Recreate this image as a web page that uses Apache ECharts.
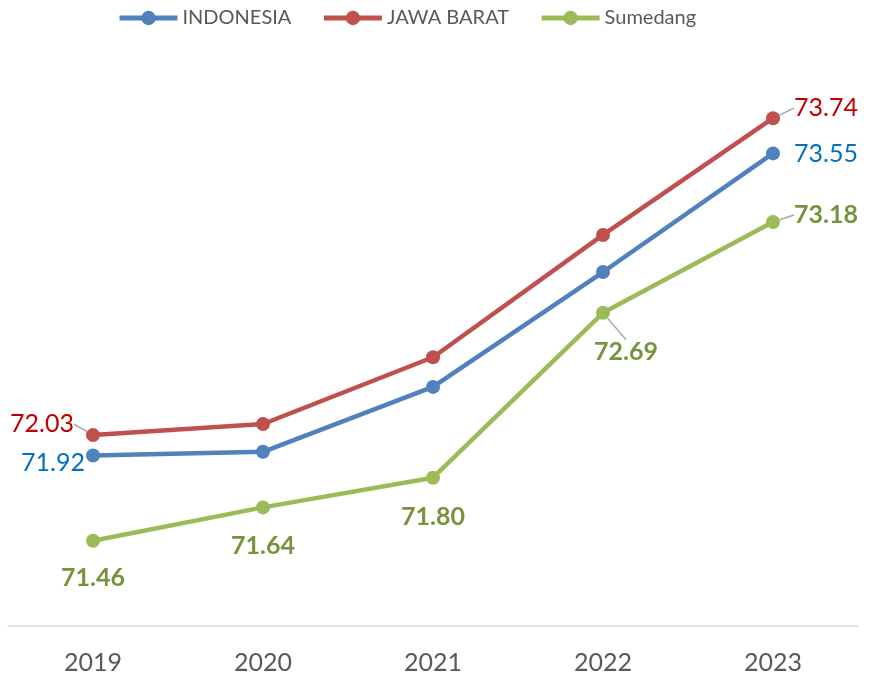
<!DOCTYPE html>
<html>
<head>
<meta charset="utf-8">
<script src="https://cdn.jsdelivr.net/npm/echarts@6/dist/echarts.min.js"></script>
<style>
  html, body { margin: 0; padding: 0; background: #fff; }
  #chart { width: 871px; height: 685px; }
</style>
</head>
<body>
<div id="chart"></div>
<script>
var years = ["2019", "2020", "2021", "2022", "2023"];
var indonesia = [71.92, 71.94, 72.29, 72.91, 73.55];
var jawaBarat = [72.03, 72.09, 72.45, 73.11, 73.74];
var sumedang = [71.46, 71.64, 71.80, 72.69, 73.18];

var fontFam = "Lato, 'Open Sans', sans-serif";

// label placement per point (null = no label)
function labelFor(pos, color, bold, offset) {
  return {
    show: true,
    position: pos,
    distance: 10,
    offset: offset || [0, 0],
    color: color,
    fontSize: 25,
    fontWeight: bold ? "bold" : "normal",
    fontFamily: fontFam,
    formatter: function (p) { return p.value.toFixed(2); }
  };
}

function buildData(values, labels, lines) {
  return values.map(function (v, i) {
    var item = { value: v };
    if (labels[i]) item.label = labels[i];
    else item.label = { show: false };
    if (lines && lines[i]) {
      item.labelLine = { show: true, lineStyle: { color: "#a6a6a6", width: 1.5 } };
    }
    return item;
  });
}

// nudge labels; the moved ones with labelLine get a leader line
var moves = {
  "JAWA BARAT": { 0: [-2, -11], 4: [4, -10] },
  "Sumedang": { 0: [0, 8], 1: [0, 9], 2: [0, 10], 3: [23, 10], 4: [4, -7] }
};

function layoutFor(name) {
  return function (p) {
    var m = moves[name][p.dataIndex];
    return m ? { dx: m[0], dy: m[1] } : {};
  };
}

var chart = echarts.init(document.getElementById("chart"));
chart.setOption({
  animation: false,
  textStyle: { fontFamily: fontFam },
  legend: {
    top: 3,
    left: 112,
    itemWidth: 58,
    itemHeight: 18,
    itemGap: 30,
    lineStyle: { width: 5 },
    textStyle: { fontSize: 20, color: "#595959", fontFamily: fontFam },
    data: ["INDONESIA", "JAWA BARAT", "Sumedang"]
  },
  grid: { left: 8, right: 13, top: 70, bottom: 59, containLabel: false },
  xAxis: {
    type: "category",
    data: years,
    boundaryGap: true,
    axisLine: { lineStyle: { color: "#d9d9d9", width: 1.5 } },
    axisTick: { show: false },
    axisLabel: { fontSize: 25, color: "#595959", margin: 24, fontFamily: fontFam }
  },
  yAxis: {
    type: "value",
    min: 71,
    max: 74,
    show: false,
    splitLine: { show: false }
  },
  series: [
    {
      name: "INDONESIA",
      type: "line",
      symbol: "circle",
      symbolSize: 14,
      lineStyle: { width: 4.5, color: "#4f81bd" },
      itemStyle: { color: "#4f81bd" },
      z: 2,
      data: buildData(indonesia, [
        labelFor("left", "#0070c0", false, [9, 7]),
        null, null, null,
        labelFor("right", "#0070c0", false, [4, 1])
      ])
    },
    {
      name: "JAWA BARAT",
      type: "line",
      symbol: "circle",
      symbolSize: 14,
      lineStyle: { width: 4.5, color: "#c0504d" },
      itemStyle: { color: "#c0504d" },
      z: 3,
      labelLayout: layoutFor("JAWA BARAT"),
      data: buildData(jawaBarat, [
        labelFor("left", "#c00000", false),
        null, null, null,
        labelFor("right", "#c00000", false)
      ], [true, false, false, false, true])
    },
    {
      name: "Sumedang",
      type: "line",
      symbol: "circle",
      symbolSize: 14,
      lineStyle: { width: 4.5, color: "#9bbb59" },
      itemStyle: { color: "#9bbb59" },
      z: 1,
      labelLayout: layoutFor("Sumedang"),
      data: buildData(sumedang, [
        labelFor("bottom", "#77933c", true),
        labelFor("bottom", "#77933c", true),
        labelFor("bottom", "#77933c", true),
        labelFor("bottom", "#77933c", true),
        labelFor("right", "#77933c", true)
      ], [false, false, false, true, true])
    }
  ]
});
</script>
</body>
</html>
